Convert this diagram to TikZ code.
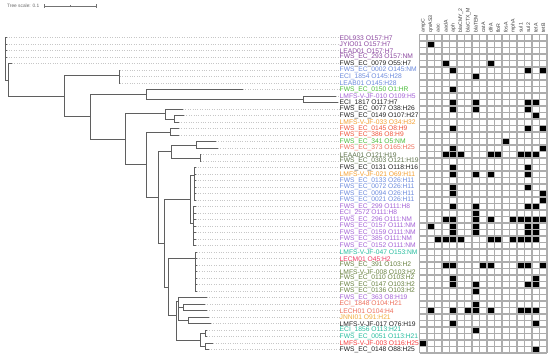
\documentclass[tikz,border=0pt]{standalone}
\usepackage{fontspec}
\setmainfont{Liberation Sans}
\definecolor{treeg}{RGB}{95,95,95}
\definecolor{colP}{RGB}{140,72,160}
\definecolor{colK}{RGB}{35,35,35}
\definecolor{colB}{RGB}{110,140,222}
\definecolor{colG}{RGB}{75,190,60}
\definecolor{colV}{RGB}{165,100,215}
\definecolor{colO}{RGB}{245,160,50}
\definecolor{colR}{RGB}{240,85,60}
\definecolor{colS}{RGB}{238,112,92}
\definecolor{colL}{RGB}{95,115,75}
\definecolor{colL2}{RGB}{105,130,65}
\definecolor{colT}{RGB}{40,190,160}
\definecolor{colPk}{RGB}{240,60,100}
\definecolor{colY}{RGB}{242,172,62}
\definecolor{colR2}{RGB}{245,62,62}
\begin{document}
\begin{tikzpicture}[x=1pt,y=-1pt,
  branch/.style={draw=treeg, line width=0.85pt},
  leader/.style={draw=black!22, line width=0.55pt, dash pattern=on 1pt off 1.4pt},
  leaf/.style={anchor=west, inner sep=0pt, font=\fontsize{6.7}{7}\selectfont},
  hdr/.style={anchor=west, rotate=90, inner sep=0pt, font=\fontsize{5.2}{6}\selectfont, text=black!75},
  cellline/.style={draw=black!32, line width=1.1pt},
  scalebar/.style={draw=black!55, line width=0.7pt}]
\fill[white] (0,0) rectangle (550,357);
\useasboundingbox (0,0) rectangle (550,357);
% scale bar
\node[anchor=west, inner sep=0pt, font=\fontsize{4.8}{5}\selectfont, text=black!60] (ts) at (7,6) {Tree scale: 0.1};
\coordinate (sb1) at (44,6); \coordinate (sb2) at (96,6); \coordinate (sbm) at (70,6);
\draw[scalebar] (sb1) -- (sb2);
\draw[scalebar] ([yshift=-1.6pt]sb1) -- ([yshift=1.6pt]sb1);
\draw[scalebar] ([yshift=-1.6pt]sb2) -- ([yshift=1.6pt]sb2);
\draw[scalebar] ([yshift=-1pt]sbm) -- ([yshift=1pt]sbm);
% internal nodes
\coordinate (R) at (5,60);
\coordinate (n1) at (8.3,80);
\coordinate (n2) at (64,96.7);
\coordinate (n3) at (119,75);
\coordinate (n4) at (90,116.7);
\coordinate (n5) at (146,94.3);
\coordinate (n7) at (303,99.45);
\coordinate (n6) at (125,139.3);
\coordinate (n8) at (165,113.3);
\coordinate (n10) at (174,119);
\coordinate (n9) at (146,164.3);
\coordinate (n11) at (170,131.95);
\coordinate (n12) at (158,197);
\coordinate (n13) at (171,151);
\coordinate (n15) at (196,144.95);
\coordinate (n16) at (200,157.95);
\coordinate (n14) at (164.3,243.3);
\coordinate (C1) at (190.7,199);
\coordinate (A) at (194,175);
\coordinate (B) at (193,223);
\coordinate (n17) at (168.3,287.3);
\coordinate (D) at (195,258.3);
\coordinate (n18) at (176,315);
\coordinate (n19) at (178.3,301.7);
\coordinate (n21) at (183.3,307.45);
\coordinate (n22) at (188.3,320.45);
\coordinate (n20) at (200,340);
\coordinate (n23) at (205.5,333.45);
\coordinate (n24) at (205,346.45);
% leaves and labels
\foreach \r/\tx/\col/\lab in {
1/6.5/colP/EDL933 O157:H7,
2/6.5/colP/JYIO01 O157:H7,
3/6.5/colP/LEAD01 O157:H7,
4/6.5/colP/FWS\_EC\_293 O157:NM,
5/11.7/colK/FWS\_EC\_0079 O55:H7,
6/120/colB/FWS\_EC\_0002 O145:NM,
7/120/colB/ECI\_1854 O145:H28,
8/120/colB/LEAB01 O145:H28,
9/243/colG/FWS\_EC\_0150 O1:HR,
10/336/colV/LMFS-V-JF-010 O109:H5,
11/338/colK/ECI\_1817 O117:H7,
12/183/colK/FWS\_EC\_0077 O38:H26,
13/184/colK/FWS\_EC\_0149 O107:H27,
14/179/colO/LMFS-V-JF-033 O34:H32,
15/179/colR/FWS\_EC\_0145 O8:H9,
16/179/colR/FWS\_EC\_386 O8:H9,
17/216/colG/FWS\_EC\_341 O5:NM,
18/218/colS/FWS\_EC\_373 O165:H25,
19/201/colL/LEAA01 O121:H19,
20/201/colL/FWS\_EC\_0303 O121:H19,
21/195.5/colK/FWS\_EC\_0131 O118:H16,
22/195.5/colO/LMFS-V-JF-021 O69:H11,
23/195.5/colB/FWS\_EC\_0133 O26:H11,
24/195.5/colB/FWS\_EC\_0072 O26:H11,
25/195.5/colB/FWS\_EC\_0094 O26:H11,
26/195.5/colB/FWS\_EC\_0021 O26:H11,
27/195.5/colV/FWS\_EC\_299 O111:H8,
28/195.5/colV/ECI\_2572 O111:H8,
29/195.5/colV/FWS\_EC\_296 O111:NM,
30/195.5/colV/FWS\_EC\_0157 O111:NM,
31/195.5/colV/FWS\_EC\_0159 O111:NM,
32/195.5/colV/FWS\_EC\_385 O111:NM,
33/195.5/colV/FWS\_EC\_0152 O111:NM,
34/197/colT/LMFS-V-JF-047 O153:NM,
35/197/colPk/LECM01 O45:H2,
36/197/colL2/FWS\_EC\_391 O103:H2,
37/197/colL2/LMFS-V-JF-008 O103:H2,
38/197/colL2/FWS\_EC\_0110 O103:H2,
39/197/colL2/FWS\_EC\_0147 O103:H2,
40/197/colL2/FWS\_EC\_0136 O103:H2,
41/206.7/colV/FWS\_EC\_363 O8:H19,
42/205/colS/ECI\_1848 O104:H21,
43/207/colS/LECH01 O104:H4,
44/209.3/colY/JNNI01 O91:H21,
45/210.7/colK/LMFS-V-JF-017 O76:H19,
46/207/colT/ECI\_1856 O113:H21,
47/207/colT/FWS\_EC\_0051 O113:H21,
48/213.3/colR2/LMFS-V-JF-003 O116:H25,
49/209/colK/FWS\_EC\_0148 O88:H25}{
  \coordinate (L\r) at (\tx,{37.7+(\r-1)*6.5});
  \node[leaf,text=\col] (t\r) at (339.5,{37.7+(\r-1)*6.5}) {\lab};
  \draw[leader] (L\r) -- (t\r.west);
}
% branches
\foreach \p/\c in {R/L1,R/L2,R/L3,R/L4,R/n1,n1/L5,n1/n2,n2/n3,n2/n4,
  n3/L6,n3/L7,n3/L8,n4/n5,n4/n6,n5/L9,n5/n7,n7/L10,n7/L11,
  n6/n8,n6/n9,n8/L12,n8/n10,n10/L13,n10/L14,n9/n11,n9/n12,
  n11/L15,n11/L16,n12/n13,n12/n14,n13/n15,n13/n16,
  n15/L17,n15/L18,n16/L19,n16/L20,n14/C1,n14/n17,C1/A,C1/B,
  A/L21,A/L22,A/L23,A/L24,A/L25,A/L26,
  B/L27,B/L28,B/L29,B/L30,B/L31,B/L32,B/L33,
  n17/D,n17/n18,D/L34,D/L35,D/L36,D/L37,D/L38,D/L39,D/L40,
  n18/n19,n18/n20,n19/L41,n19/n21,n19/n22,n21/L42,n21/L43,
  n22/L44,n22/L45,n20/n23,n20/n24,n23/L46,n23/L47,n24/L48,n24/L49}{
  \draw[branch] (\p) |- (\c);
}
% presence/absence grid
\foreach \c/\r in {2/2,4/5,10/5,5/6,15/6,17/6,8/7,5/9,
  5/11,8/11,15/11,16/11,5/12,8/12,15/12,16/13,5/15,15/15,17/15,
  12/17,5/18,17/18,4/19,5/19,6/19,10/19,11/19,14/19,15/19,16/19,
  5/21,15/21,5/22,8/22,10/22,15/22,5/24,15/24,5/25,17/25,17/26,
  5/27,8/27,15/27,16/27,8/28,
  4/29,5/29,8/29,10/29,13/29,14/29,15/29,16/29,17/29,
  2/30,5/30,8/30,15/30,16/30,5/31,8/31,15/31,16/31,
  3/32,4/32,5/32,6/32,10/32,11/32,13/32,14/32,15/32,16/32,
  4/36,5/36,9/36,10/36,14/36,15/36,17/36,5/38,16/38,
  5/39,8/39,15/39,16/39,8/40,8/42,
  2/43,5/43,7/43,8/43,10/43,14/43,15/43,16/43,
  5/45,16/45,8/46,1/48,16/49}{
  \fill[black] ({419.5+(\c-1)*7.5},{34.45+(\r-1)*6.5}) rectangle +(7.5,6.5);
}
\foreach \i in {0,...,17}{
  \draw[cellline] ({419.5+\i*7.5},34.45) -- ({419.5+\i*7.5},352.95);
}
\foreach \j in {0,...,49}{
  \draw[cellline] (419.5,{34.45+\j*6.5}) -- (547,{34.45+\j*6.5});
}
% column headers
\foreach \c/\g in {1/ampC,2/qnrAS3,3/aac,4/aadA,5/aph,6/blaCMY\_2,7/blaCTX\_M,8/blaTEM,
  9/catA,10/dfrA,11/floR,12/fosA,13/mphA,14/sul1,15/sul2,16/tetA,17/tetB}{
  \node[hdr] (h\c) at ({423.25+(\c-1)*7.5},32.8) {\g};
}
\end{tikzpicture}
\end{document}
